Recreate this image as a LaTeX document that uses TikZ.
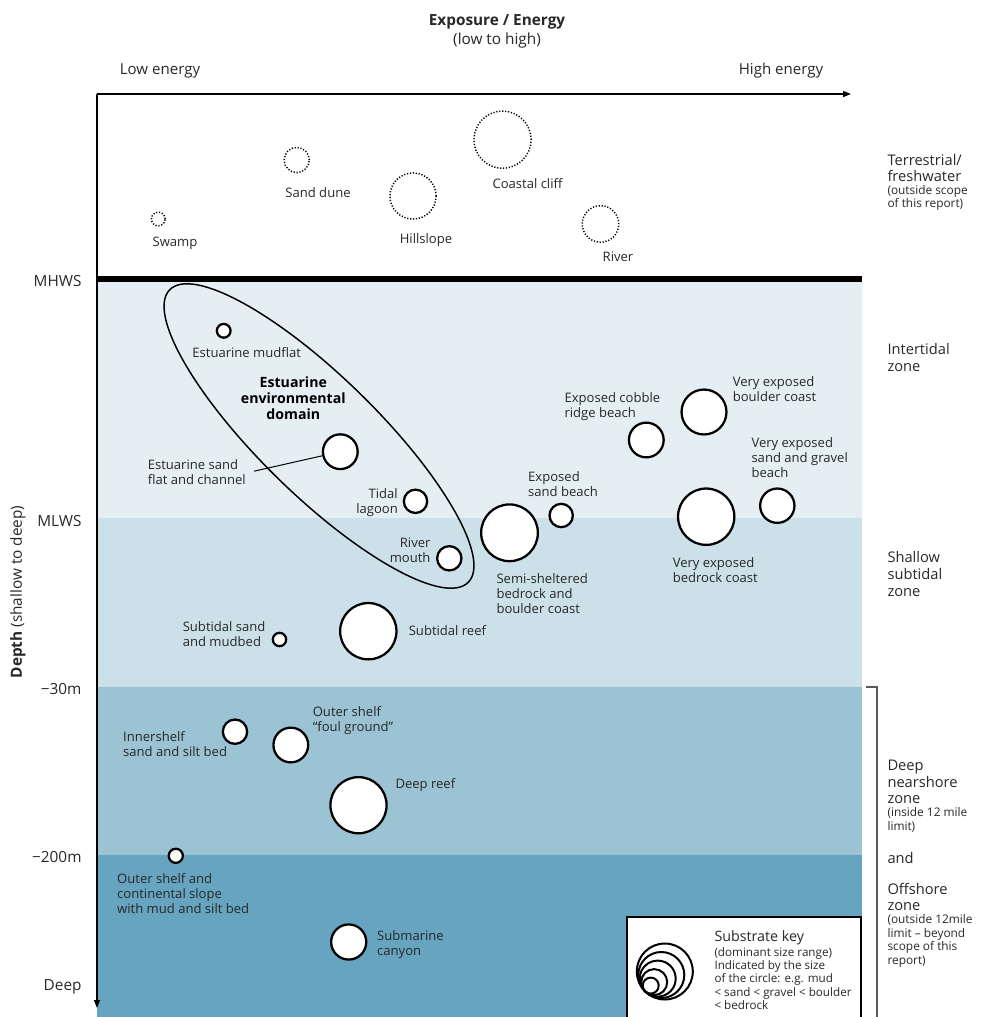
\documentclass[tikz,border=0pt]{standalone}
\usepackage{fontspec}
\setmainfont{Open Sans}
\usetikzlibrary{arrows.meta}
\tikzset{every picture/.style={line width=0.75pt}}
\tikzset{
  site/.style={circle, draw=black, line width=1.7pt, fill=white, inner sep=0pt, minimum size=1.5pt*#1-1.7pt},
  land/.style={circle, draw=black, line width=1.1pt, dash pattern=on 0.9pt off 1.3pt, inner sep=0pt, minimum size=1.5pt*#1-1.1pt},
  lbl/.style={font=\fontsize{9.8}{11.25}\selectfont, text={rgb, 255:red, 40; green, 40; blue, 40}, inner sep=0pt, align=left},
  zone/.style={font=\fontsize{11}{12.4}\selectfont, text={rgb, 255:red, 40; green, 40; blue, 40}, inner sep=0pt, align=left, anchor=west},
  zonenote/.style={font=\fontsize{8.9}{10.1}\selectfont, text={rgb, 255:red, 40; green, 40; blue, 40}, inner sep=0pt, align=left, anchor=west},
  level/.style={font=\fontsize{11.5}{12}\selectfont, text={rgb, 255:red, 40; green, 40; blue, 40}, inner sep=0pt, anchor=east},
}

\begin{document}
\begin{tikzpicture}[x=0.75pt,y=0.75pt,yscale=-1,xscale=1]
\useasboundingbox (0,0) rectangle (984,1017);

%depth bands
\fill [color={rgb, 255:red, 228; green, 238; blue, 243 }] (97,281) rectangle (862,518) ;
\fill [color={rgb, 255:red, 204; green, 224; blue, 233 }] (97,518) rectangle (862,687) ;
\fill [color={rgb, 255:red, 155; green, 195; blue, 211 }] (97,687) rectangle (862,855) ;
\fill [color={rgb, 255:red, 102; green, 164; blue, 192 }] (97,855) rectangle (862,1017) ;
\draw [line width=4.5pt] (97,279) -- (862,279) ;

%axes
\draw [line width=1.1pt, -{Triangle[length=6pt,width=4.5pt]}] (97,94) -- (851,94) ;
\draw [line width=1.1pt, -{Triangle[length=6pt,width=4.5pt]}] (97,94) -- (97,1008) ;
\draw [line width=1.1pt, color={rgb, 255:red, 90; green, 90; blue, 90 }] (866,687) -- (877,687) -- (877,1017) ;

%estuarine domain
\draw [line width=1.1pt, rotate around={44.4:(319,436)}] (319,436) ellipse [x radius=209, y radius=59] ;

%titles
\draw (497,22) node [lbl, font=\fontsize{11.5}{12}\selectfont\bfseries] (title) {Exposure / Energy};
\draw (497,41) node [lbl, font=\fontsize{11.5}{12}\selectfont] (subtitle) {(low to high)};
\draw (160,71) node [lbl, font=\fontsize{11.3}{12}\selectfont] (low) {Low energy};
\draw (781,71) node [lbl, font=\fontsize{11.3}{12}\selectfont] (high) {High energy};
\draw (18,592) node [lbl, font=\fontsize{11.5}{12}\selectfont, rotate=90] (depth) {\textbf{Depth} (shallow to deep)};

%levels
\draw (82,281) node [level] (mhws) {MHWS};
\draw (82,521) node [level] (mlws) {MLWS};
\draw (82,689) node [level] (m30) {−30m};
\draw (82,857) node [level] (m200) {−200m};
\draw (82,987) node [level] (deep) {Deep};

%zones
\draw (887,168) node [zone] (terr) {Terrestrial/\\freshwater};
\draw (887,198) node [zonenote] (terrnote) {(outside scope\\of this report)};
\draw (887,357.5) node [zone] (inter) {Intertidal\\zone};
\draw (887,574) node [zone] (shallow) {Shallow\\subtidal\\zone};
\draw (887,782) node [zone] (nearshore) {Deep\\nearshore\\zone};
\draw (887,820) node [zonenote] (nearnote) {(inside 12 mile\\limit)};
\draw (887,858) node [zone] (and) {and};
\draw (887,897) node [zone] (offshore) {Offshore\\zone};
\draw (887,941) node [zonenote] (offnote) {(outside 12mile\\limit – beyond\\scope of this\\report)};

%terrestrial sites
\draw (158.3,219) node [land=7.6] (swamp) {};
\draw (296.7,160) node [land=13.3] (dune) {};
\draw (413,196) node [land=23.8] (hill) {};
\draw (502.5,139.7) node [land=29.3] (cliff) {};
\draw (600.5,224) node [land=19] (river) {};
\draw (175,243) node [lbl] (swamplbl) {Swamp};
\draw (318,193) node [lbl] (dunelbl) {Sand dune};
\draw (426,240) node [lbl] (hilllbl) {Hillslope};
\draw (527.5,184) node [lbl] (clifflbl) {Coastal cliff};
\draw (618,257) node [lbl] (riverlbl) {River};

%intertidal sites
\draw (223.7,330.8) node [site=8] (mudflat) {};
\draw (340.3,451.7) node [site=18.5] (sandflat) {};
\draw (415.5,501.3) node [site=12.8] (lagoon) {};
\draw (449.3,558.3) node [site=13.3] (mouth) {};
\draw (646.3,440) node [site=18.5] (cobble) {};
\draw (704,412) node [site=23.6] (boulder) {};
\draw (777.3,505.7) node [site=18.3] (gravel) {};
\draw (706.2,516.7) node [site=29.3] (bedrock) {};
\draw (561.2,515.5) node [site=12.8] (sandbeach) {};
\draw (509.5,532.8) node [site=29.5] (semi) {};

\draw (246.7,353) node [lbl] (mudflatlbl) {Estuarine mudflat};
\draw (293.3,397.7) node [lbl, align=center, font=\fontsize{10.6}{12}\selectfont\bfseries, text=black] (domain) {Estuarine\\environmental\\domain};
\draw (147.3,472.5) node [lbl, anchor=west] (sandflatlbl) {Estuarine sand\\flat and channel};
\draw (398.3,503) node [lbl, anchor=east, align=right] (lagoonlbl) {Tidal\\lagoon};
\draw (431,550.3) node [lbl, anchor=east, align=right] (mouthlbl) {River\\mouth};
\draw (564,406.3) node [lbl, anchor=west] (cobblelbl) {Exposed cobble\\ridge beach};
\draw (732.3,389) node [lbl, anchor=west] (boulderlbl) {Very exposed\\boulder coast};
\draw (751,457.7) node [lbl, anchor=west] (gravellbl) {Very exposed\\sand and gravel\\beach};
\draw (672.3,570.2) node [lbl, anchor=west] (bedrocklbl) {Very exposed\\bedrock coast};
\draw (527.7,483.7) node [lbl, anchor=west] (sandbeachlbl) {Exposed\\sand beach};
\draw (496,593.3) node [lbl, anchor=west] (semilbl) {Semi-sheltered\\bedrock and\\boulder coast};

\draw ([xshift=6pt,yshift=-1pt]sandflatlbl.east) -- (sandflat) ;

%subtidal and offshore sites
\draw (279.5,639.5) node [site=7.8] (subsand) {};
\draw (368.3,631.2) node [site=29.3] (subreef) {};
\draw (235,731.7) node [site=13.3] (inner) {};
\draw (290.8,745) node [site=18.5] (foul) {};
\draw (358.5,805.2) node [site=29.2] (deepreef) {};
\draw (175.8,855.8) node [site=8.2] (slope) {};
\draw (348.7,942) node [site=18.7] (canyon) {};

\draw (182.3,634.2) node [lbl, anchor=west] (subsandlbl) {Subtidal sand\\and mudbed};
\draw (408.3,631) node [lbl, anchor=west] (subreeflbl) {Subtidal reef};
\draw (122.7,744.2) node [lbl, anchor=west] (innerlbl) {Innershelf\\sand and silt bed};
\draw (312.3,720.2) node [lbl, anchor=west] (foullbl) {Outer shelf\\“foul ground”};
\draw (395,785) node [lbl, anchor=west] (deepreeflbl) {Deep reef};
\draw (116.7,893.3) node [lbl, anchor=west] (slopelbl) {Outer shelf and\\continental slope\\with mud and silt bed};
\draw (376.7,944.5) node [lbl, anchor=west] (canyonlbl) {Submarine\\canyon};

%substrate key
\draw [line width=1.1pt, fill=white] (627,917) rectangle (861,1030) ;
\draw [line width=1.5pt] (664.8,971.5) circle [radius=28] ;
\draw [line width=1.5pt] (661.3,975) circle [radius=23] ;
\draw [line width=1.5pt] (657.7,978.6) circle [radius=18] ;
\draw [line width=1.5pt] (654.2,982.1) circle [radius=13] ;
\draw [line width=1.5pt] (650.7,985.6) circle [radius=8] ;
\draw (714,938) node [lbl, anchor=west, font=\fontsize{10.7}{11}\selectfont] (keytitle) {Substrate key};
\draw (714,978.3) node [lbl, anchor=west, font=\fontsize{8.75}{10}\selectfont] (keytxt) {(dominant size range)\\Indicated by the size\\of the circle: e.g. mud\\< sand < gravel < boulder\\< bedrock};

\end{tikzpicture}
\end{document}
